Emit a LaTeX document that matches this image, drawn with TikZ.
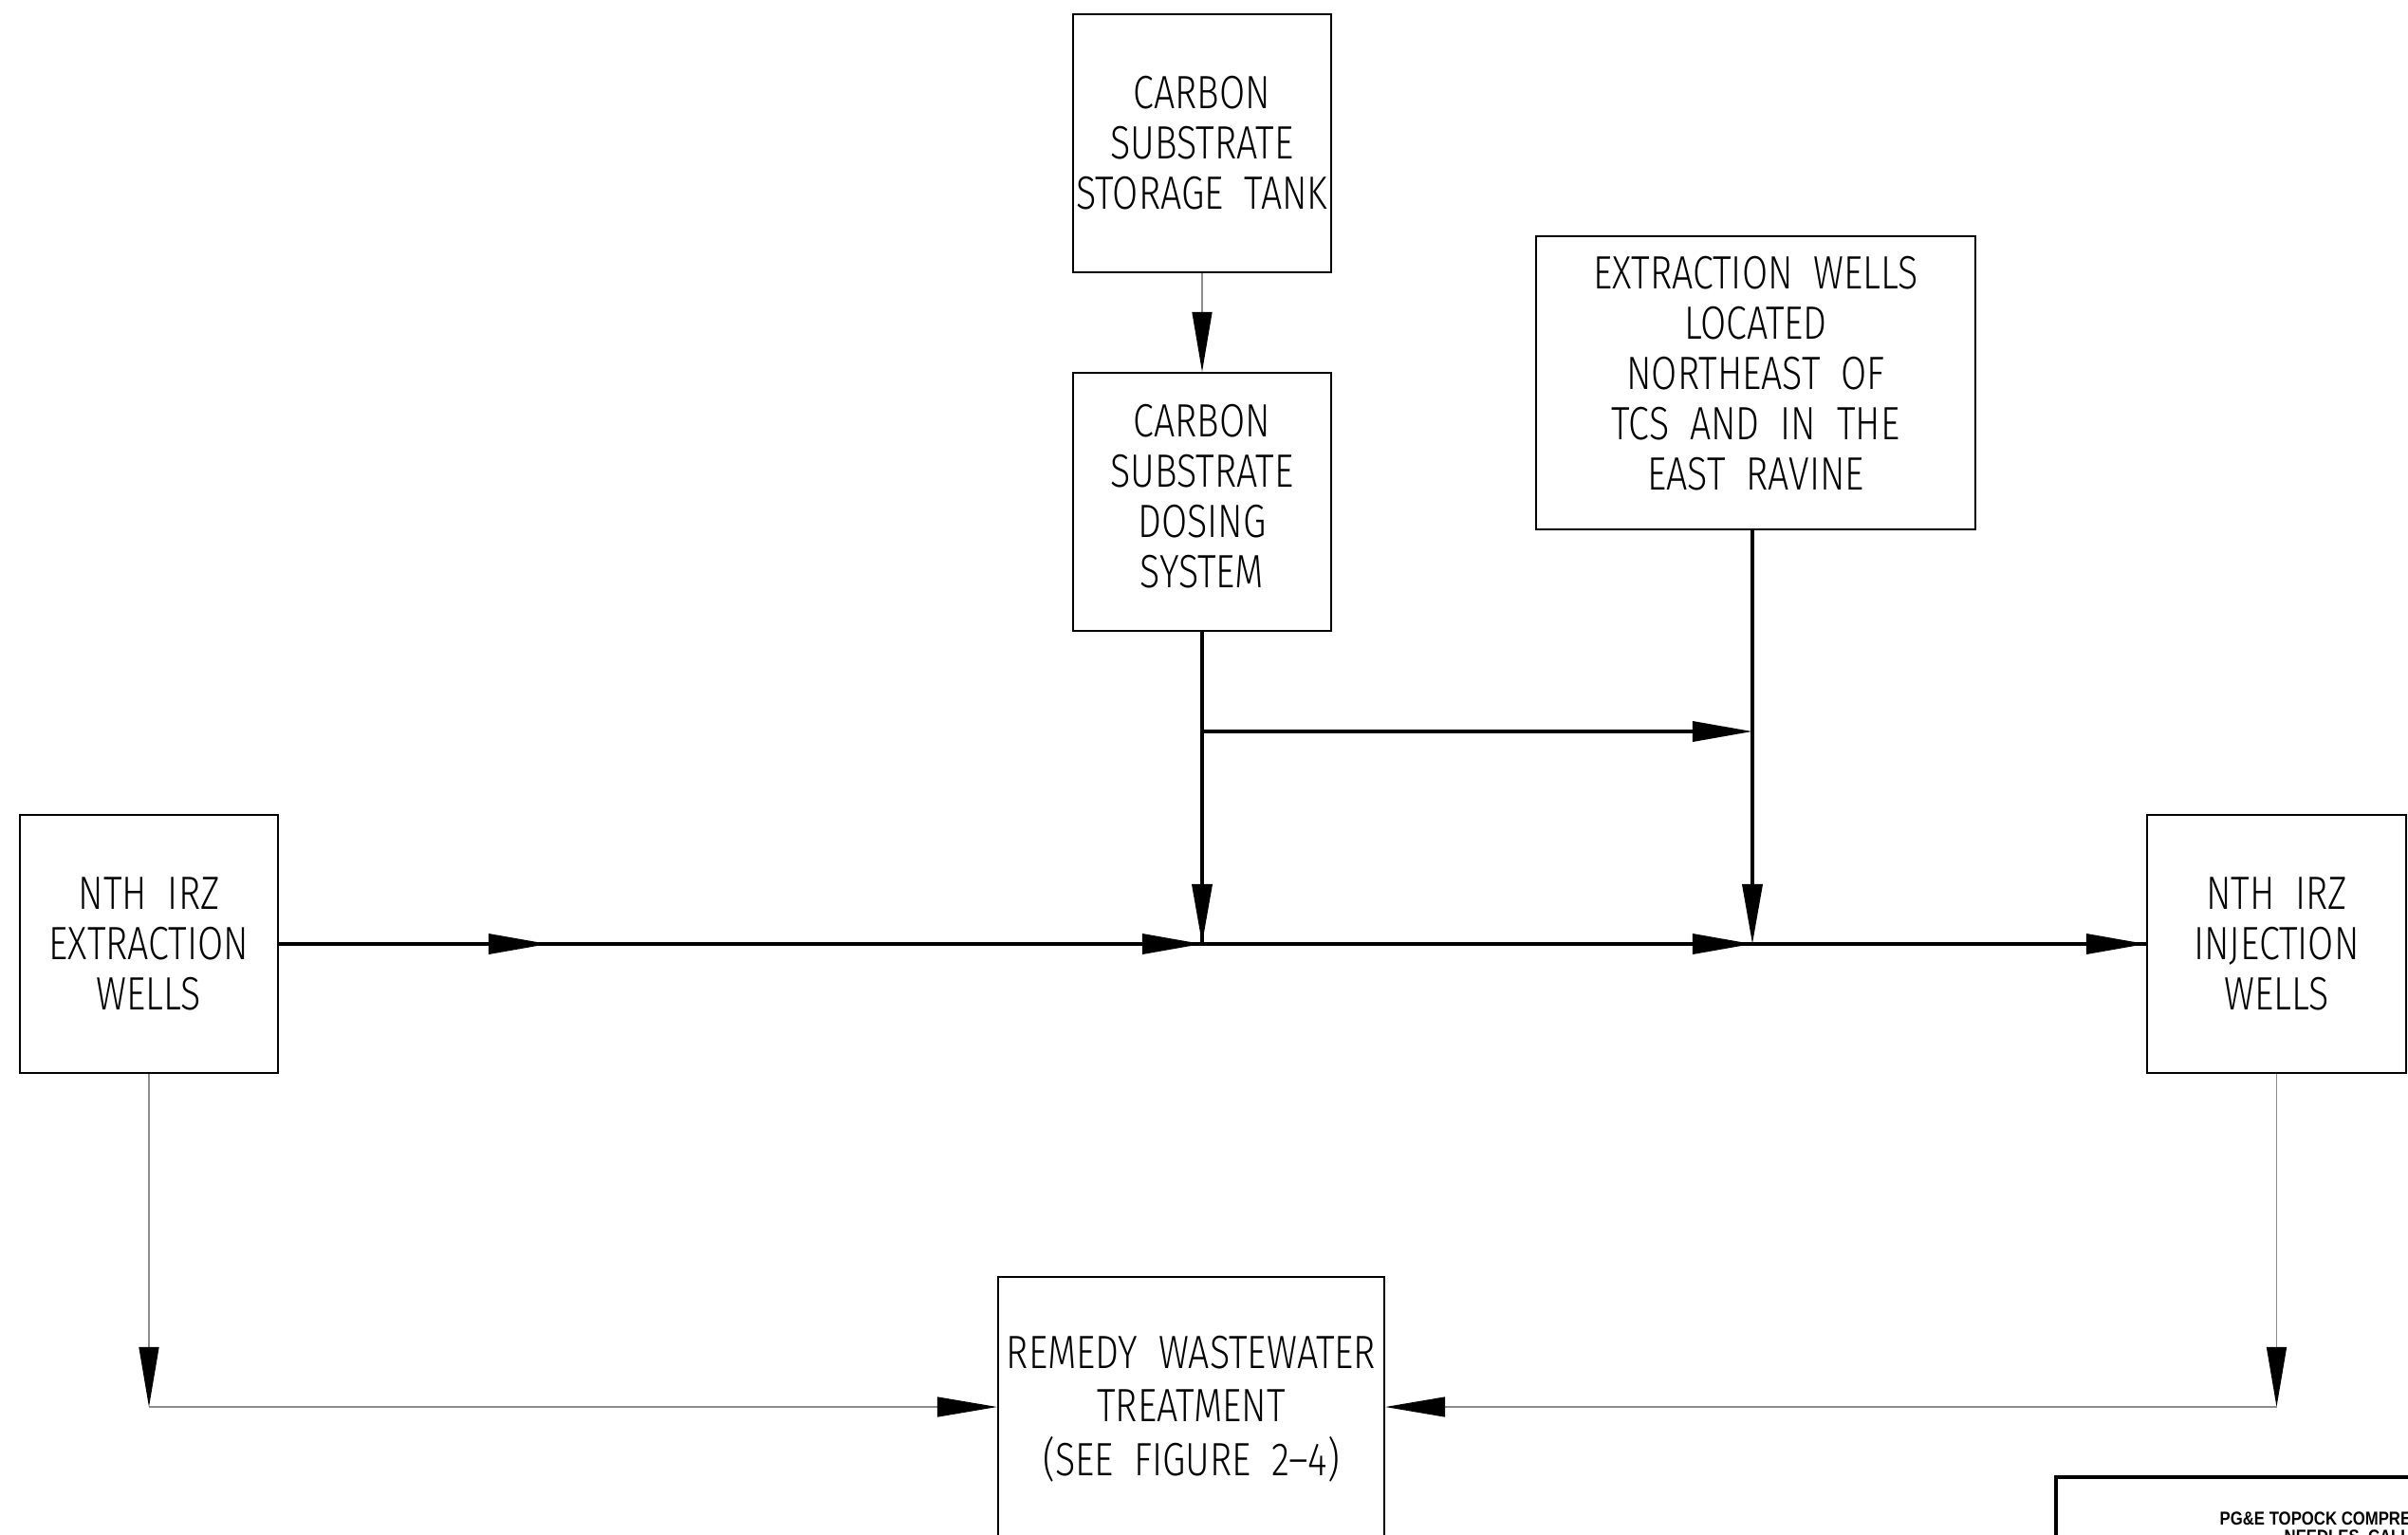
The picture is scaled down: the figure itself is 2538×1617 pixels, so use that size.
\documentclass[tikz,border=0pt]{standalone}
\usepackage{fontspec}
\usetikzlibrary{arrows.meta}
% thin condensed lettering for the process boxes
\IfFontExistsTF{Fira Sans Light}
  {\newfontfamily\cadfont[FakeStretch=0.80]{Fira Sans Light}}
  {\IfFontExistsTF{Lato Light}
     {\newfontfamily\cadfont[FakeStretch=0.80]{Lato Light}}
     {\newfontfamily\cadfont[FakeStretch=0.80]{Liberation Sans}}}
\newfontfamily\titlefont[FakeStretch=0.85]{Liberation Sans Bold}
\tikzset{
  cadtext/.style={font=\cadfont\fontsize{14}{15.1}\selectfont, align=center, inner sep=0pt},
  procbox/.style={draw, line width=0.55pt, cadtext,
    minimum width=2.72cm, minimum height=2.72cm},
  tip/.style={-{Triangle[length=6.3mm,width=2.1mm,color=black]}},
  mainline/.style={line width=1pt},
  mainflow/.style={tip, mainline},
  sideflow/.style={tip, line width=0.4pt, draw=black!45},
}
\begin{document}
\begin{tikzpicture}[x=0.01cm, y=-0.01cm]
\clip (0,0) rectangle (2538,1617);
\fill[white] (0,0) rectangle (2538,1617);

% process boxes
\node[procbox] (tank) at (1267,151) {CARBON\\SUBSTRATE\\STORAGE~~TANK};
\node[procbox] (dose) at (1267,529) {};
\node[cadtext] (dosetext) at ([yshift=0.06cm]dose.center)
  {CARBON\\SUBSTRATE\\DOSING\\SYSTEM};
\node[procbox, minimum width=4.63cm, minimum height=3.09cm] (ne) at (1850.5,403.5) {};
\node[cadtext] (netext) at ([yshift=0.1cm]ne.center)
  {EXTRACTION~~WELLS\\LOCATED\\NORTHEAST~~OF\\TCS~~AND~~IN~~THE\\EAST~~RAVINE};
\node[procbox] (ext) at (157,995) {NTH~~IRZ\\EXTRACTION\\WELLS};
\node[procbox, minimum width=2.73cm] (inj) at (2399.5,995) {NTH~~IRZ\\INJECTION\\WELLS};
\node[procbox, minimum width=4.07cm, minimum height=2.78cm,
  font=\cadfont\fontsize{14}{16}\selectfont] (rem) at (1255.5,1485)
  {REMEDY~~WASTEWATER\\TREATMENT\\(SEE~~FIGURE~~2\textendash4)};

% junction points on the main line
\coordinate (m1) at (578,995);
\coordinate (j1) at (1267,995);
\coordinate (j2) at (1847,995);
\coordinate (b1) at (1267,771);
\coordinate (b2) at (1847,771);
\coordinate (neb) at (1847,558);
\coordinate (c1) at (157,1483);
\coordinate (c2) at (2399.5,1483);

% main treatment train: continuous lines, then the arrowheads
\draw[mainline] (ext.east) -- (inj.west);
\draw[mainline] (dose.south) -- (j1);
\draw[mainflow] (ext.east) -- (m1);
\draw[mainflow] (m1) -- (j1);
\draw[mainflow] (j1) -- (j2);
\draw[mainflow] (j2) -- (inj.west);
\draw[mainflow] (b1) -- (j1);
\draw[mainflow] (b1) -- (b2);
\draw[mainflow] (neb) -- (j2);

% feed and wastewater lines
\draw[sideflow] (tank.south) -- (dose.north);
\draw[sideflow] (ext.south) -- (c1);
\draw[sideflow] (c1) -- (rem.west |- c1);
\draw[sideflow] (inj.south) -- (c2);
\draw[sideflow] (c2) -- (rem.east |- c2);

% title block corner
\draw[line width=0.9pt] (2167,1700) |- (2700,1557);
\node[anchor=base west, inner sep=0pt, font=\titlefont\fontsize{5.6}{6}\selectfont]
  (tb1) at (2339,1607) {PG\&E TOPOCK COMPRE};
\node[anchor=base west, inner sep=0pt, font=\titlefont\fontsize{5.6}{6}\selectfont]
  (tb2) at (2407,1626) {NEEDLES, CALI};
\end{tikzpicture}
\end{document}
